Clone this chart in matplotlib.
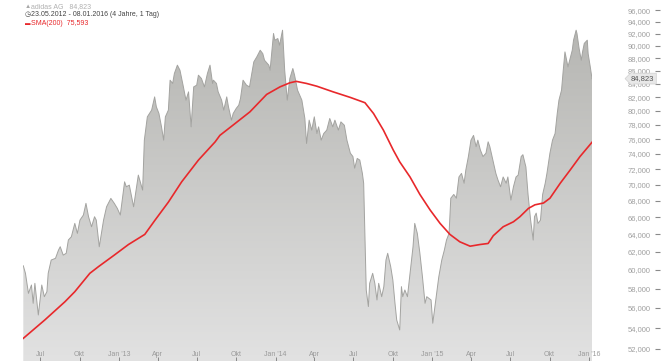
import matplotlib
matplotlib.use("Agg")
import matplotlib.pyplot as plt
import matplotlib.dates as mdates
import matplotlib.transforms as mtransforms
from matplotlib.ticker import FixedLocator, FuncFormatter, NullLocator
import numpy as np
import pandas as pd

plt.rcParams['font.family'] = ['Liberation Sans', 'DejaVu Sans']

# ---------------- data ----------------
price_dates = [
    "2012-05-23", "2012-05-28", "2012-06-04", "2012-06-11", "2012-06-15", "2012-06-19", "2012-06-27",
    "2012-07-05", "2012-07-11", "2012-07-17", "2012-07-20", "2012-07-27", "2012-08-06", "2012-08-13",
    "2012-08-17", "2012-08-24", "2012-08-31", "2012-09-05", "2012-09-12", "2012-09-20", "2012-09-26",
    "2012-10-02", "2012-10-10", "2012-10-16", "2012-10-22", "2012-10-29", "2012-11-05", "2012-11-09",
    "2012-11-16", "2012-11-26", "2012-12-03", "2012-12-13", "2012-12-21", "2012-12-28", "2013-01-04",
    "2013-01-14", "2013-01-18", "2013-01-25", "2013-02-04", "2013-02-11", "2013-02-15", "2013-02-25",
    "2013-03-01", "2013-03-08", "2013-03-18", "2013-03-25", "2013-03-29", "2013-04-04", "2013-04-10",
    "2013-04-15", "2013-04-19", "2013-04-26", "2013-04-30", "2013-05-06", "2013-05-10", "2013-05-17",
    "2013-05-23", "2013-05-31", "2013-06-06", "2013-06-12", "2013-06-18", "2013-06-24", "2013-07-01",
    "2013-07-05", "2013-07-12", "2013-07-19", "2013-07-26", "2013-08-01", "2013-08-07", "2013-08-09",
    "2013-08-16", "2013-08-20", "2013-08-28", "2013-09-02", "2013-09-09", "2013-09-13", "2013-09-20",
    "2013-09-24", "2013-10-01", "2013-10-07", "2013-10-11", "2013-10-17", "2013-10-25", "2013-11-01",
    "2013-11-11", "2013-11-18", "2013-11-26", "2013-12-02", "2013-12-06", "2013-12-16", "2013-12-19",
    "2013-12-27", "2013-12-30", "2014-01-06", "2014-01-10", "2014-01-17", "2014-01-22", "2014-01-28",
    "2014-02-03", "2014-02-10", "2014-02-14", "2014-02-21", "2014-03-03", "2014-03-10", "2014-03-14",
    "2014-03-20", "2014-03-26", "2014-04-01", "2014-04-07", "2014-04-11", "2014-04-17", "2014-04-23",
    "2014-04-30", "2014-05-07", "2014-05-14", "2014-05-19", "2014-05-27", "2014-06-02", "2014-06-10",
    "2014-06-16", "2014-06-24", "2014-06-30", "2014-07-04", "2014-07-10", "2014-07-16", "2014-07-22",
    "2014-07-25", "2014-07-31", "2014-08-05", "2014-08-08", "2014-08-15", "2014-08-20", "2014-08-25",
    "2014-08-29", "2014-09-05", "2014-09-10", "2014-09-15", "2014-09-19", "2014-09-26", "2014-10-01",
    "2014-10-06", "2014-10-10", "2014-10-17", "2014-10-21", "2014-10-24", "2014-10-29", "2014-11-04",
    "2014-11-10", "2014-11-17", "2014-11-21", "2014-11-27", "2014-12-03", "2014-12-09", "2014-12-15",
    "2014-12-19", "2014-12-29", "2015-01-02", "2015-01-07", "2015-01-12", "2015-01-16", "2015-01-23",
    "2015-01-29", "2015-02-03", "2015-02-09", "2015-02-13", "2015-02-20", "2015-02-26", "2015-03-04",
    "2015-03-10", "2015-03-16", "2015-03-20", "2015-03-26", "2015-04-01", "2015-04-07", "2015-04-13",
    "2015-04-17", "2015-04-23", "2015-04-29", "2015-05-06", "2015-05-11", "2015-05-15", "2015-05-22",
    "2015-05-29", "2015-06-03", "2015-06-09", "2015-06-15", "2015-06-22", "2015-06-26", "2015-07-03",
    "2015-07-09", "2015-07-15", "2015-07-20", "2015-07-27", "2015-07-31", "2015-08-07", "2015-08-12",
    "2015-08-18", "2015-08-24", "2015-08-27", "2015-08-31", "2015-09-04", "2015-09-10", "2015-09-15",
    "2015-09-21", "2015-09-25", "2015-10-02", "2015-10-08", "2015-10-14", "2015-10-19", "2015-10-23",
    "2015-10-29", "2015-11-02", "2015-11-06", "2015-11-10", "2015-11-13", "2015-11-18", "2015-11-23",
    "2015-11-26", "2015-12-02", "2015-12-04", "2015-12-09", "2015-12-14", "2015-12-17", "2015-12-21",
    "2015-12-28", "2015-12-30", "2016-01-04", "2016-01-08",
]
price_values = [
    60450, 59630, 57510, 58380, 56480, 58560, 55300,
    58380, 57160, 57680, 59630, 61080, 61270, 62190,
    62570, 61630, 61830, 63340, 63710, 65270, 64100,
    65660, 66260, 67680, 66060, 64870, 66060, 65660,
    62570, 65660, 67260, 68290, 67680, 67070, 66260,
    70370, 69740, 69950, 67260, 69740, 71230, 69320,
    75880, 79150, 80120, 82060, 80600, 79630, 77730,
    75880, 79150, 80120, 84580, 84080, 85610, 86910,
    86120, 83560, 81580, 82810, 77730, 83560, 83820,
    85350, 84840, 83560, 85610, 86910, 84080, 84580,
    84080, 82810, 81580, 80120, 82060, 80600, 78680,
    79630, 80360, 80840, 81810, 84580, 83820, 83560,
    87420, 88220, 89290, 88740, 87690, 86910, 86120,
    92040, 90930, 91200, 90110, 92590, 86120, 81580,
    84840, 86390, 85350, 83060, 81580, 78920, 75420,
    78680, 77270, 79150, 76800, 77730, 75880, 76800,
    77270, 78920, 77730, 78680, 77270, 78430, 77960,
    75880, 74110, 73660, 72130, 73410, 73190, 71450,
    70190, 57860, 56150, 58560, 59630, 58560, 56820,
    58560, 57160, 58210, 61080, 61830, 60350, 58910,
    56480, 54800, 53820, 58210, 57160, 57860, 57160,
    59630, 62570, 65270, 64100, 61830, 59240, 56480,
    57160, 56820, 54480, 56150, 57860, 59240, 61080,
    62190, 63330, 64100, 68310, 68780, 68310, 70990,
    71450, 70190, 71880, 73660, 75880, 76540, 74990,
    75880, 74530, 73660, 74110, 75650, 74990, 73190,
    71450, 70590, 69740, 70990, 70190, 70990, 68080,
    69740, 70990, 71230, 73660, 73910, 72280, 68780,
    65660, 63330, 66060, 66500, 65270, 65660, 68780,
    70190, 71450, 74110, 75880, 76800, 79630, 81580,
    83060, 86120, 89020, 87690, 86640, 87960, 89290,
    90930, 92590, 92040, 89560, 87690, 89020, 90400,
    90930, 88740, 86640, 84823,
]

sma_dates = [
    "2012-05-23", "2012-07-12", "2012-08-28", "2012-09-20", "2012-10-25", "2012-11-14", "2012-12-21",
    "2013-01-23", "2013-03-02", "2013-03-26", "2013-04-26", "2013-05-27", "2013-07-05", "2013-08-13",
    "2013-08-24", "2013-09-24", "2013-11-02", "2013-12-11", "2014-01-11", "2014-02-03", "2014-02-18",
    "2014-03-14", "2014-04-07", "2014-05-15", "2014-06-24", "2014-07-28", "2014-08-17", "2014-09-09",
    "2014-10-02", "2014-10-17", "2014-11-10", "2014-12-03", "2014-12-27", "2015-01-19", "2015-02-11",
    "2015-03-06", "2015-03-30", "2015-04-22", "2015-05-11", "2015-05-23", "2015-06-15", "2015-07-09",
    "2015-07-24", "2015-08-13", "2015-08-28", "2015-09-17", "2015-10-02", "2015-10-26", "2015-11-18",
    "2015-12-11", "2016-01-08",
]
sma_values = [
    53010, 54800, 56640, 57680, 59630, 60350, 61630,
    62820, 63980, 65660, 67830, 70370, 73190, 75650,
    76540, 77990, 79870, 82430, 83560, 84180, 84400,
    84080, 83660, 82810, 81980, 81200, 79630, 77270,
    74530, 72960, 70990, 68780, 66860, 65270, 63980,
    63130, 62630, 62820, 62940, 63830, 64870, 65460,
    66060, 67070, 67500, 67720, 68310, 70190, 71880,
    73660, 75593,
]

y_ticks = list(range(52000, 96001, 2000))
x_tick_dates = ["2012-07-01", "2012-10-01", "2013-01-01", "2013-04-01", "2013-07-01",
                "2013-10-01", "2014-01-01", "2014-04-01", "2014-07-01", "2014-10-01",
                "2015-01-01", "2015-04-01", "2015-07-01", "2015-10-01", "2016-01-01"]
x_tick_labels = ["Jul", "Okt", "Jan '13", "Apr", "Jul", "Okt", "Jan '14", "Apr",
                 "Jul", "Okt", "Jan '15", "Apr", "Jul", "Okt", "Jan '16"]

title_name = "adidas AG"
last_price = 84823
sma_last = 75593
range_text = "23.05.2012 - 08.01.2016 (4 Jahre, 1 Tag)"

# ---------------- figure ----------------
W, H = 664, 361
fig = plt.figure(figsize=(W / 100, H / 100), dpi=100)
fig.patch.set_facecolor("white")

left_px, right_px = 23.3, 592.0
ymin, ymax = 50880, 97790

# invisible helper axes carrying the small right-hand tick marks
axt = fig.add_axes([left_px / W, 0.0, (660 - left_px) / W, 1.0])
axt.set_yscale("log")
axt.set_ylim(ymin, ymax)
axt.patch.set_visible(False)
for s in axt.spines.values():
    s.set_visible(False)
axt.xaxis.set_major_locator(NullLocator())
axt.yaxis.set_major_locator(FixedLocator(y_ticks))
axt.yaxis.set_minor_locator(NullLocator())
axt.yaxis.tick_right()
axt.tick_params(axis="y", direction="in", length=3.5, width=0.8, color="#8a8a8a",
                labelright=False, labelleft=False)

ax = fig.add_axes([left_px / W, 0.0, (right_px - left_px) / W, 1.0])
ax.set_facecolor("none")

pdates = pd.to_datetime(price_dates)
sdates = pd.to_datetime(sma_dates)
pvals = np.array(price_values, dtype=float)

ax.set_yscale("log")
ax.set_ylim(ymin, ymax)
ax.set_xlim(pdates[0], pdates[-1])

# area with vertical gradient
poly = ax.fill_between(pdates, pvals, ymin, facecolor="none", edgecolor="none")
grad = np.linspace(0, 1, 256).reshape(-1, 1)
top_c = np.array([0.70, 0.70, 0.685])
bot_c = np.array([0.885, 0.885, 0.885])
img = top_c[None, None, :] * (1 - grad[:, :, None]) + bot_c[None, None, :] * grad[:, :, None]
im = ax.imshow(img, extent=[0, 1, 0, 1], transform=ax.transAxes, aspect="auto",
               origin="upper", zorder=1)
im.set_clip_path(poly.get_paths()[0], transform=ax.transData)
ax.plot(pdates, pvals, color="#a3a3a0", lw=0.7, zorder=2)

# SMA
ax.plot(sdates, sma_values, color="#e8282b", lw=1.2, zorder=3)

for s in ax.spines.values():
    s.set_visible(False)

# y axis labels on right
ax.yaxis.set_major_locator(FixedLocator(y_ticks))
ax.yaxis.set_minor_locator(NullLocator())
ax.yaxis.set_major_formatter(FuncFormatter(lambda v, p: f"{v:,.0f}"))
ax.yaxis.tick_right()
ax.tick_params(axis="y", length=0, pad=(628 - right_px) * 0.72, labelsize=5.5, labelcolor="#a0a0a0")

# x axis
ax.xaxis.set_major_locator(FixedLocator(mdates.date2num(pd.to_datetime(x_tick_dates))))
ax.xaxis.set_minor_locator(NullLocator())
ax.set_xticklabels(x_tick_labels)
ax.tick_params(axis="x", direction="in", length=3, width=0.7, color="#888888",
               pad=-7.5, labelsize=5, labelcolor="#9a9a9a")

# last-price callout
trans = mtransforms.blended_transform_factory(ax.transAxes, ax.transData)
ax.text((631 - left_px) / (right_px - left_px), last_price, f"{last_price:,}", transform=trans,
        fontsize=5.5, color="#555555", va="center", ha="left", zorder=5, clip_on=False,
        bbox=dict(boxstyle="larrow,pad=0.25", fc="#e8e8e8", ec="#cfcfcf", lw=0.5))

# header
def fx(px):
    return px / W

def fy(py):
    return 1 - py / H

fig.text(fx(25), fy(7), "\u25B2", fontsize=4.5, color="#a8a8a8", va="center", ha="left")
fig.text(fx(31), fy(7), f"{title_name}   {last_price:,}", fontsize=5, color="#b0b0b0",
         va="center", ha="left")
fig.text(fx(25), fy(15), "\u25F7", fontsize=5, color="#444444", va="center", ha="left")
fig.text(fx(31), fy(15), range_text, fontsize=5, color="#444444", va="center", ha="left")
fig.text(fx(25), fy(23.5), "\u25AC", fontsize=4, color="#e8282b", va="center", ha="left")
fig.text(fx(31), fy(23.5), f"SMA(200)  {sma_last:,}", fontsize=5, color="#e8282b",
         va="center", ha="left")

fig.savefig("out.png", dpi=100, facecolor="white")
